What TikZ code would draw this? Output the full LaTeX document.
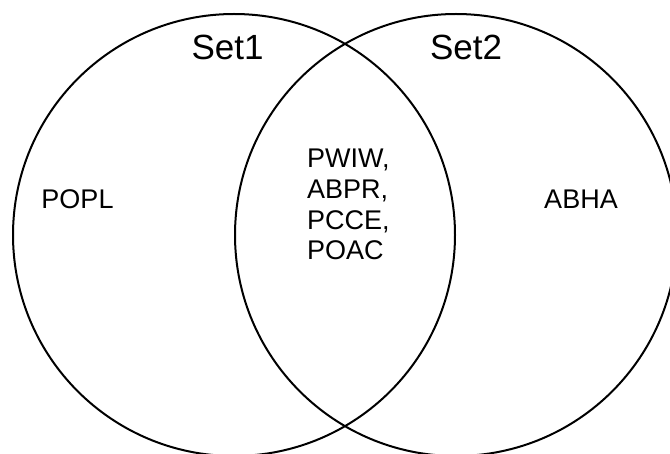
\documentclass[tikz,border=0pt]{standalone}
\usepackage{fontspec}
\setmainfont{Liberation Sans}
\begin{document}
\begin{tikzpicture}[x=1pt,y=-1pt,
  setcircle/.style={circle, draw=black, line width=2pt, minimum size=442pt, inner sep=0pt},
  setname/.style={inner sep=0pt, anchor=base, font=\fontsize{35}{42}\selectfont},
  member/.style={inner sep=0pt, font=\fontsize{27}{30.7}\selectfont}]
  \useasboundingbox (0,0) rectangle (670,454);
  \clip (0,0) rectangle (670,454);
  % the two sets
  \node[setcircle] (s1) at (234,235) {};
  \node[setcircle] (s2) at (456,235) {};
  % set titles
  \node[setname] (t1) at (227.5,59.5) {Set1};
  \node[setname] (t2) at (466,60) {Set2};
  % members
  \node[member, anchor=base] (only1) at (77.5,209) {POPL};
  \node[member, anchor=base] (only2) at (581,209) {ABHA};
  \node[member, anchor=north west, align=left] (both) at (307,149)
    {PWIW,\\ABPR,\\PCCE,\\POAC};
\end{tikzpicture}
\end{document}
